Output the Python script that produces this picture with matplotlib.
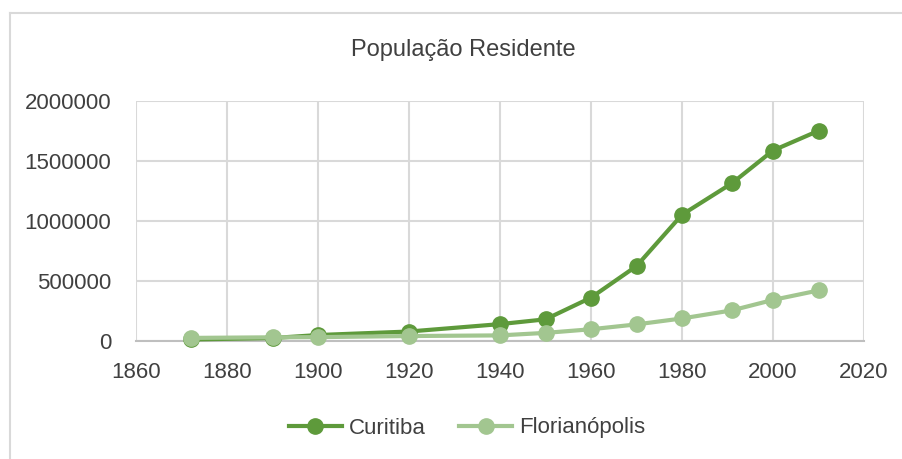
import matplotlib
matplotlib.use('Agg')
import matplotlib.pyplot as plt
from matplotlib.lines import Line2D

# dados (população residente)
anos = [1872, 1890, 1900, 1920, 1940, 1950, 1960, 1970, 1980, 1991, 2000, 2010]
curitiba = [12651, 24553, 49755, 78986, 140656, 180575, 361309, 624362, 1052147, 1315035, 1587315, 1751907]
florianopolis = [25709, 30687, 32229, 41338, 46771, 67630, 97827, 138337, 187880, 255390, 342315, 421240]

x_ticks = [1860, 1880, 1900, 1920, 1940, 1960, 1980, 2000, 2020]
y_ticks = [0, 500000, 1000000, 1500000, 2000000]

cor_cur = '#5E9A3B'
cor_flo = '#A2C690'
cor_txt = '#404040'

plt.rcParams['font.family'] = ['Liberation Sans', 'DejaVu Sans']

fig = plt.figure(figsize=(9.02, 4.59), dpi=100)
ax = fig.add_axes([136 / 902, 1 - 341 / 459, 728 / 902, 240 / 459])

# moldura externa do gráfico
fig.add_artist(Line2D([10 / 902, 10 / 902], [0, 1 - 13 / 459], transform=fig.transFigure,
                      color='#D9D9D9', lw=1.5))
fig.add_artist(Line2D([10 / 902, 1], [1 - 13 / 459, 1 - 13 / 459], transform=fig.transFigure,
                      color='#D9D9D9', lw=1.5))

# Curitiba por baixo, Florianópolis por cima (como no original)
ax.plot(anos, curitiba, color=cor_cur, lw=3, marker='o', ms=11, zorder=3,
        clip_on=False, label='Curitiba')
ax.plot(anos, florianopolis, color=cor_flo, lw=3, marker='o', ms=11, zorder=4,
        clip_on=False, label='Florianópolis')

ax.set_xlim(1860, 2020)
ax.set_ylim(0, 2000000)
ax.set_xticks(x_ticks)
ax.set_yticks(y_ticks)
ax.set_xticklabels([str(v) for v in x_ticks])
ax.set_yticklabels([str(v) for v in y_ticks])
ax.grid(True, color='#D9D9D9', lw=1.5)
ax.set_axisbelow(True)
for s in ['top', 'right', 'left']:
    ax.spines[s].set_visible(False)
ax.spines['bottom'].set_color('#BFBFBF')
ax.spines['bottom'].set_linewidth(1.5)
ax.spines['bottom'].set_zorder(2)
ax.tick_params(length=0, labelsize=16, labelcolor=cor_txt)
ax.tick_params(axis='x', pad=15)
ax.tick_params(axis='y', pad=18)

fig.text(463 / 902, 1 - 50 / 459, 'População Residente', ha='center', va='center',
         fontsize=17, color=cor_txt)

h = [Line2D([], [], color=cor_cur, lw=3, marker='o', ms=11),
     Line2D([], [], color=cor_flo, lw=3, marker='o', ms=11)]
fig.legend(h, ['Curitiba', 'Florianópolis'], loc='center', ncol=2,
           bbox_to_anchor=(467 / 902, 1 - 428 / 459), frameon=False, fontsize=16,
           handlelength=2.4, handletextpad=0.3, columnspacing=1.5, labelcolor=cor_txt)

fig.savefig('out.png', dpi=100)
